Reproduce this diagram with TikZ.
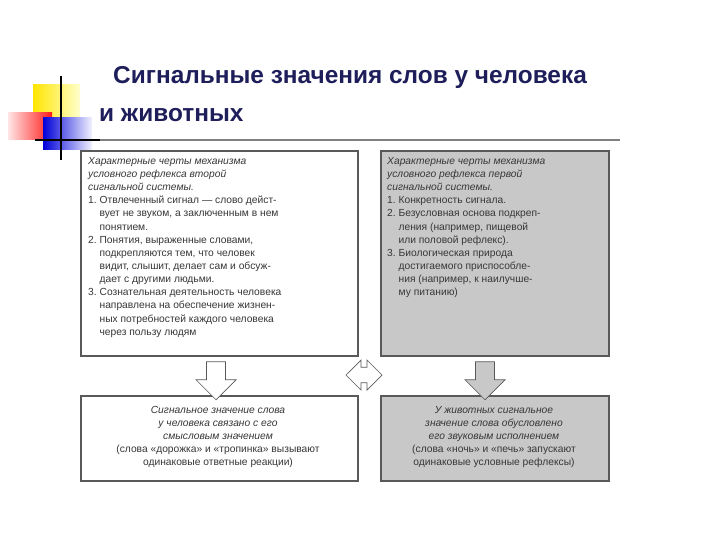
\documentclass[tikz,border=0pt]{standalone}
\usepackage{fontspec}
\setmainfont{Liberation Sans}
\usetikzlibrary{shapes.arrows}
\definecolor{navy}{RGB}{30,30,90}
\definecolor{boxgray}{RGB}{200,200,200}
\definecolor{txt}{RGB}{55,55,55}
\tikzset{
 card/.style={draw=gray!70!black,line width=1.6pt,anchor=north west,inner sep=0pt},
 body/.style={anchor=north west,align=left,font=\fontsize{10.3}{13.2}\selectfont,text=txt,inner sep=0pt},
 cbody/.style={align=center,font=\fontsize{10.3}{13.2}\selectfont,text=txt,inner sep=0pt},
 dnarrow/.style={single arrow,draw=gray!70!black,line width=0.7pt,shape border rotate=270,minimum height=38bp,minimum width=40bp,single arrow head extend=7bp,inner sep=6bp}
}
\begin{document}
\begin{tikzpicture}[x=1bp,y=-1bp]
\useasboundingbox (0,0) rectangle (720,540);
% decoration
\shade[left color=yellow!80!orange,right color=yellow!20] (33,85) rectangle (80,122);
\shade[left color=red!10,right color=red!90] (8,113) rectangle (52,140);
\shade[left color=blue!85!black,right color=blue!5] (43,118) rectangle (92,150);
\draw[line width=1.5pt] (61,76) -- (61,160);
\draw[line width=1.5pt] (35,140) -- (100,140);
\draw[line width=1.2pt,gray] (100,140) -- (620,140);
% title
\node[anchor=west,text=navy,font=\fontsize{24.5}{28}\selectfont\bfseries,inner sep=0pt] (t1) at (113,78) {Сигнальные значения слов у человека};
\node[anchor=west,text=navy,font=\fontsize{24.5}{28}\selectfont\bfseries,inner sep=0pt] (t2) at (99,115) {и животных};
% boxes
\node[card,fill=white,minimum width=277bp,minimum height=205bp] (b1) at (80,150) {};
\node[card,fill=boxgray,minimum width=228bp,minimum height=205bp] (b2) at (380,150) {};
\node[card,fill=white,minimum width=277bp,minimum height=85bp] (b3) at (80,395) {};
\node[card,fill=boxgray,minimum width=228bp,minimum height=85bp] (b4) at (380,395) {};
\node[body] (x1) at (88,157) {\itshape Характерные черты механизма\\\itshape условного рефлекса второй\\\itshape сигнальной системы.\\
1.~Отвлеченный сигнал — слово дейст-\\\hphantom{1.~}вует не звуком, а заключенным в нем\\\hphantom{1.~}понятием.\\
2.~Понятия, выраженные словами,\\\hphantom{2.~}подкрепляются тем, что человек\\\hphantom{2.~}видит, слышит, делает сам и обсуж-\\\hphantom{2.~}дает с другими людьми.\\
3.~Сознательная деятельность человека\\\hphantom{3.~}направлена на обеспечение жизнен-\\\hphantom{3.~}ных потребностей каждого человека\\\hphantom{3.~}через пользу людям};
\node[body] (x2) at (387,157) {\itshape Характерные черты механизма\\\itshape условного рефлекса первой\\\itshape сигнальной системы.\\
1.~Конкретность сигнала.\\
2.~Безусловная основа подкреп-\\\hphantom{2.~}ления (например, пищевой\\\hphantom{2.~}или половой рефлекс).\\
3.~Биологическая природа\\\hphantom{3.~}достигаемого приспособле-\\\hphantom{3.~}ния (например, к наилучше-\\\hphantom{3.~}му питанию)};
\node[cbody] (x3) at (218,437) {\itshape Сигнальное значение слова\\\itshape у человека связано с его\\\itshape смысловым значением\\(слова «дорожка» и «тропинка» вызывают\\одинаковые ответные реакции)};
\node[cbody] (x4) at (494,437) {\itshape У животных сигнальное\\\itshape значение слова обусловлено\\\itshape его звуковым исполнением\\(слова «ночь» и «печь» запускают\\одинаковые условные рефлексы)};
% arrows
\node[dnarrow,fill=white] (a1) at (216,376) {};
\node[dnarrow,fill=boxgray] (a2) at (485,376) {};
\node[double arrow,draw=gray!70!black,fill=white,line width=0.7pt,minimum height=36bp,minimum width=30bp,double arrow head extend=4bp,inner sep=4bp] (a3) at (364,375) {};
\end{tikzpicture}
\end{document}
